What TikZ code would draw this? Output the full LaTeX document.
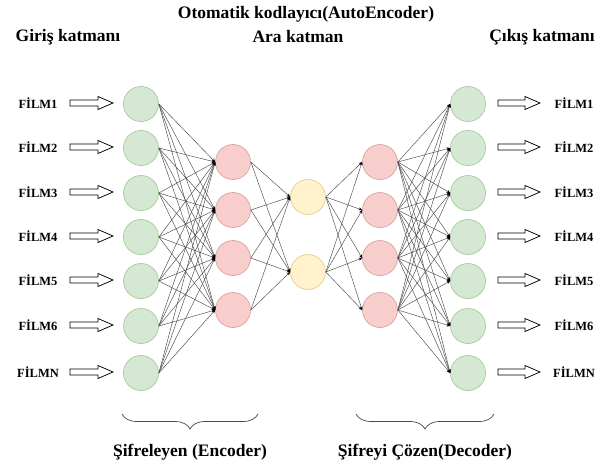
\documentclass[tikz,border=0pt]{standalone}
\usepackage{fontspec}
\setmainfont{Liberation Serif}
\usetikzlibrary{arrows.meta,decorations.pathreplacing}
\definecolor{gfill}{HTML}{D5E8D4}
\definecolor{gdraw}{HTML}{A8CB9C}
\definecolor{rfill}{HTML}{F8CECC}
\definecolor{rdraw}{HTML}{D9A3A1}
\definecolor{yfill}{HTML}{FFF2CC}
\definecolor{ydraw}{HTML}{E3CF8F}
\definecolor{linkgray}{HTML}{4A4A4A}
\begin{document}
\begin{tikzpicture}[x=1pt,y=-1pt,
  neuron/.style={circle, minimum size=35pt, inner sep=0pt, line width=0.7pt},
  inn/.style={neuron, fill=gfill, draw=gdraw},
  red/.style={neuron, fill=rfill, draw=rdraw},
  yel/.style={neuron, fill=yfill, draw=ydraw},
  link/.style={draw=linkgray, line width=0.45pt, -{Stealth[length=3.5pt,width=3pt,color=black]}},
  hollow/.style={draw=black, line width=0.75pt, fill=white, line join=miter},
  lbl/.style={font=\bfseries\fontsize{12.5}{14}\selectfont},
  head/.style={font=\bfseries\fontsize{17.5}{20}\selectfont},
  bracestyle/.style={draw=linkgray, line width=0.7pt, decorate,
    decoration={brace, mirror, amplitude=15pt}}]
\useasboundingbox (0,0) rectangle (610,468);

% headings
\node[head] (title) at (306,14) {Otomatik kodlayıcı(AutoEncoder)};
\node[head] (hin) at (68,37) {Giriş katmanı};
\node[head] (hmid) at (298,37) {Ara katman};
\node[head] (hout) at (542,37) {Çıkış katmanı};

% input and output layers
\foreach \i/\y/\t in {1/104/FİLM1, 2/148/FİLM2, 3/193/FİLM3, 4/237/FİLM4, 5/281/FİLM5, 6/326/FİLM6, 7/373/FİLMN} {
  \node[inn] (i\i) at (141,\y) {};
  \node[inn] (o\i) at (468,\y) {};
  \node[lbl] (li\i) at (38,\y-1) {\t};
  \coordinate (ai\i) at (70,\y-1);
  \coordinate (ao\i) at (498,\y-1);
  \draw[hollow] (ai\i) ++(0,-3) -- ++(28,0) -- ++(0,-3.5) -- ++(15,6.5) -- ++(-15,6.5) -- ++(0,-3.5) -- ++(-28,0) -- cycle;
  \draw[hollow] (ao\i) ++(0,-3) -- ++(27,0) -- ++(0,-3.5) -- ++(15,6.5) -- ++(-15,6.5) -- ++(0,-3.5) -- ++(-27,0) -- cycle;
  \node[lbl] (lo\i) at (574,\y-1) {\t};
}

% hidden layers
\foreach \j/\y in {1/162, 2/210, 3/258, 4/310} {
  \node[red] (e\j) at (233,\y) {};
  \node[red] (d\j) at (380,\y) {};
}
\node[yel] (m1) at (308,197) {};
\node[yel] (m2) at (308,272) {};

% connections
\foreach \a in {1,...,7} \foreach \b in {1,...,4}
  \draw[link] (i\a.east) -- (e\b.west);
\foreach \a in {1,...,4} \foreach \b in {1,2}
  \draw[link] (e\a.east) -- (m\b.west);
\foreach \a in {1,2} \foreach \b in {1,...,4}
  \draw[link] (m\a.east) -- (d\b.west);
\foreach \a in {1,...,4} \foreach \b in {1,...,7}
  \draw[link] (d\a.east) -- (o\b.west);

% braces
\coordinate (b1s) at (122,414);
\coordinate (b1e) at (258,414);
\coordinate (b2s) at (356,414);
\coordinate (b2e) at (494,414);
\draw[bracestyle] (b1s) -- (b1e);
\draw[bracestyle] (b2s) -- (b2e);
\node[head] (enc) at (190,452) {Şifreleyen (Encoder)};
\node[head] (dec) at (425,452) {Şifreyi Çözen(Decoder)};
\end{tikzpicture}
\end{document}
